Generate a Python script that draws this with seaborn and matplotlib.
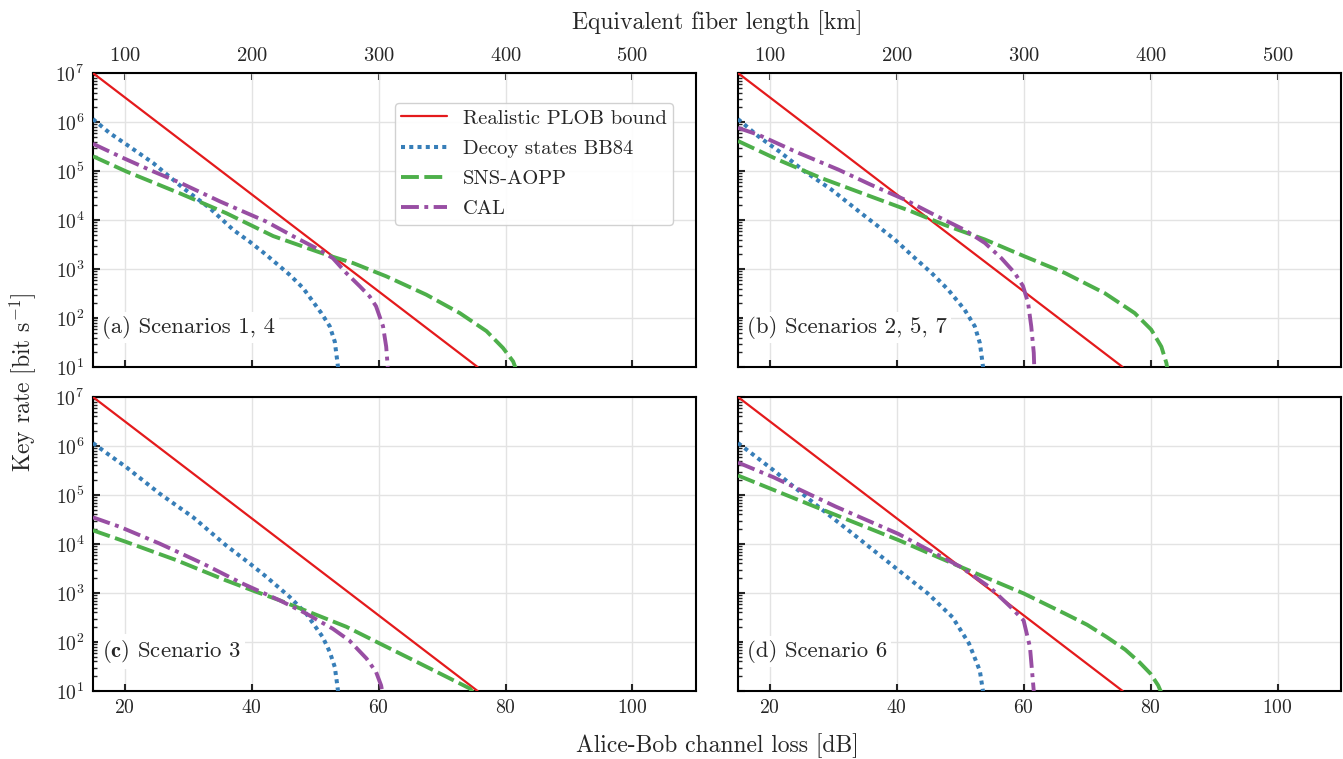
import numpy as np
import pandas as pd
import matplotlib
matplotlib.use("Agg")
import matplotlib.pyplot as plt
import seaborn as sns
from matplotlib.ticker import LogLocator, NullFormatter, FixedLocator

sns.set_theme(style="ticks")
plt.rcParams['font.family'] = ['cmr10', 'DejaVu Serif']
plt.rcParams['mathtext.fontset'] = 'cm'
plt.rcParams['axes.formatter.use_mathtext'] = True
plt.rcParams['axes.unicode_minus'] = False

# ---------------- data ----------------
series_names = ["Realistic PLOB bound", "Decoy states BB84", "SNS-AOPP", "CAL"]
panel_labels = ["(a) Scenarios 1, 4", "(b) Scenarios 2, 5, 7",
                r"$\mathbf{(c)}$ Scenario 3", "(d) Scenario 6"]
top_ticks_km = [100, 200, 300, 400, 500]
bottom_ticks_db = [20, 40, 60, 80, 100]

# PLOB bound (same in all panels)
plob_loss = [15.0, 75.6]
plob_rate = [1.0e7, 1.0e1]

# panel (a)
a_bb84_loss = [15.0, 17.6, 20.25, 24.5, 29.2, 33.4, 37.1, 39.7, 42.3, 46.0, 48.1, 51.0, 52.3, 53.1, 53.5, 53.7]
a_bb84_rate = [1.15e6, 6.0e5, 3.5e5, 1.45e5, 4.5e4, 1.75e4, 6.3e3, 3.6e3, 1.95e3, 7.6e2, 4.1e2, 1.25e2, 6.8e1, 3.3e1, 1.3e1, 8.0]
a_sns_loss = [15.0, 20.25, 28.7, 36.0, 43.4, 51.8, 56.0, 61.2, 67.5, 72.8, 77.0, 79.6, 81.2, 81.8]
a_sns_rate = [2.0e5, 9.8e4, 3.5e4, 1.38e4, 4.7e3, 1.95e3, 1.32e3, 7.1e2, 3.0e2, 1.26e2, 5.4e1, 2.45e1, 1.3e1, 8.0]
a_cal_loss = [15.0, 19.7, 24.5, 28.7, 35.0, 42.3, 46.5, 50.7, 52.8, 54.9, 57.0, 58.6, 59.6, 60.7, 61.2, 61.5]
a_cal_rate = [3.6e5, 1.86e5, 9.8e4, 5.8e4, 2.4e4, 9.3e3, 4.7e3, 2.45e3, 1.66e3, 8.3e2, 4.5e2, 2.75e2, 1.74e2, 6.8e1, 2.6e1, 8.0]

# panel (b)
b_bb84_loss = [15.0, 18.2, 21.8, 25.5, 29.7, 34.4, 37.1, 39.7, 42.3, 45.5, 48.1, 50.7, 52.3, 53.1, 53.5, 53.7]
b_bb84_rate = [1.15e6, 5.1e5, 2.35e5, 9.8e4, 4.2e4, 1.38e4, 7.4e3, 4.0e3, 1.95e3, 8.3e2, 3.8e2, 1.48e2, 6.8e1, 3.1e1, 1.3e1, 8.0]
b_sns_loss = [15.0, 21.3, 28.1, 36.0, 42.3, 47.6, 53.9, 60.2, 66.5, 72.8, 77.5, 80.1, 81.7, 82.5, 82.7]
b_sns_rate = [4.1e5, 1.7e5, 7.2e4, 3.0e4, 1.5e4, 7.9e3, 4.0e3, 1.8e3, 8.3e2, 3.2e2, 1.26e2, 5.8e1, 2.6e1, 1.2e1, 8.0]
b_cal_loss = [15.0, 18.2, 24.5, 30.8, 36.0, 41.3, 46.5, 50.7, 53.9, 56.5, 58.6, 59.9, 60.7, 61.2, 61.6, 61.7]
b_cal_rate = [7.6e5, 5.5e5, 2.35e5, 1.07e5, 5.2e4, 2.6e4, 1.17e4, 6.3e3, 3.4e3, 1.66e3, 8.3e2, 4.5e2, 2.05e2, 6.8e1, 1.95e1, 8.0]

# panel (c)
c_bb84_loss = [15.0, 17.6, 20.25, 25.5, 30.8, 36.0, 39.7, 42.3, 46.0, 48.6, 51.2, 52.3, 53.1, 53.5, 53.7]
c_bb84_rate = [1.15e6, 6.5e5, 3.7e5, 1.07e5, 3.5e4, 9.3e3, 4.0e3, 2.15e3, 8.3e2, 3.8e2, 1.26e2, 6.3e1, 3.1e1, 1.3e1, 8.0]
c_sns_loss = [15.0, 20.25, 28.1, 36.0, 40.2, 44.4, 49.7, 54.9, 60.2, 65.4, 70.7, 74.4, 75.2]
c_sns_rate = [1.9e4, 1.1e4, 4.7e3, 1.8e3, 1.12e3, 7.1e2, 3.8e2, 2.05e2, 9.3e1, 4.3e1, 1.95e1, 1.12e1, 8.0]
c_cal_loss = [15.0, 19.2, 25.5, 32.3, 38.6, 44.4, 48.6, 52.8, 55.4, 58.1, 59.6, 60.4, 60.7]
c_cal_rate = [3.5e4, 2.25e4, 1.02e4, 4.0e3, 1.55e3, 7.1e2, 3.8e2, 1.86e2, 1.07e2, 4.6e1, 2.45e1, 1.3e1, 8.0]

# panel (d)
d_bb84_loss = [15.0, 20.6, 27.1, 33.7, 40.3, 44.9, 48.8, 51.4, 53.1, 53.5, 53.7]
d_bb84_rate = [1.15e6, 3.2e5, 6.6e4, 1.4e4, 2.9e3, 9.8e2, 3.2e2, 9.3e1, 2.6e1, 1.2e1, 8.0]
d_sns_loss = [15.0, 27.1, 40.3, 50.1, 60.0, 66.5, 70.0, 73.1, 76.0, 78.3, 80.0, 81.2, 81.9]
d_sns_rate = [2.5e5, 5.8e4, 1.2e4, 3.4e3, 9.8e2, 3.8e2, 2.25e2, 1.26e2, 7.0e1, 3.8e1, 2.25e1, 1.3e1, 8.0]
d_cal_loss = [15.0, 20.6, 30.4, 40.3, 50.1, 54.7, 58.0, 60.0, 61.0, 61.6, 61.7]
d_cal_rate = [4.6e5, 2.3e5, 5.8e4, 1.6e4, 3.4e3, 1.3e3, 5.1e2, 2.75e2, 7.9e1, 1.0e1, 8.0]

panels = [
    (a_bb84_loss, a_bb84_rate, a_sns_loss, a_sns_rate, a_cal_loss, a_cal_rate),
    (b_bb84_loss, b_bb84_rate, b_sns_loss, b_sns_rate, b_cal_loss, b_cal_rate),
    (c_bb84_loss, c_bb84_rate, c_sns_loss, c_sns_rate, c_cal_loss, c_cal_rate),
    (d_bb84_loss, d_bb84_rate, d_sns_loss, d_sns_rate, d_cal_loss, d_cal_rate),
]

colors = ["#e41a1c", "#377eb8", "#4daf4a", "#984ea3"]
FS_TICK = 14.2
FS_LEG = 14.8
FS_LAB = 17
FS_ANN = 16.4

fig, axes = plt.subplots(2, 2, figsize=(13.43, 7.59), dpi=100, sharex=True, sharey=True)
fig.subplots_adjust(left=0.0692, right=0.9985, top=0.9038, bottom=0.0896,
                    wspace=0.0697, hspace=0.102)

for i, ax in enumerate(axes.flat):
    bl, br, sl, sr, cl, cr = panels[i]
    ax.set_yscale('log')
    sns.lineplot(x=plob_loss, y=plob_rate, ax=ax, color=colors[0], linewidth=1.6,
                 label=series_names[0], zorder=3)
    l1 = sns.lineplot(x=bl, y=br, ax=ax, color=colors[1], linewidth=2.9,
                      label=series_names[1], zorder=3).lines[-1]
    l1.set_dashes((1.0, 1.05))
    l2 = sns.lineplot(x=sl, y=sr, ax=ax, color=colors[2], linewidth=2.8,
                      label=series_names[2], zorder=3).lines[-1]
    l2.set_dashes((4.6, 1.4))
    l3 = sns.lineplot(x=cl, y=cr, ax=ax, color=colors[3], linewidth=2.8,
                      label=series_names[3], zorder=3).lines[-1]
    l3.set_dashes((4.6, 1.4, 1.0, 1.4))

    ax.set_xlim(15, 110)
    ax.set_ylim(1e1, 1e7)
    ax.grid(True, which='major', color='#e3e3e3', linewidth=1.0, zorder=0)
    ax.set_axisbelow(True)
    for sp in ax.spines.values():
        sp.set_linewidth(1.5)
        sp.set_color('black')
    ax.xaxis.set_major_locator(FixedLocator(bottom_ticks_db))
    ax.yaxis.set_major_locator(LogLocator(base=10, numticks=10))
    ax.yaxis.set_minor_locator(LogLocator(base=10, subs=np.arange(2, 10), numticks=20))
    ax.yaxis.set_minor_formatter(NullFormatter())
    ax.tick_params(axis='both', which='major', direction='in', length=5, width=1.5,
                   labelsize=FS_TICK, top=False, right=False, pad=6)
    ax.tick_params(axis='y', which='minor', direction='in', length=3, width=1.0,
                   right=False)
    ax.tick_params(axis='x', which='minor', bottom=False, top=False)
    ax.set_xlabel('')
    ax.set_ylabel('')

    ax.text(0.015, 0.135, panel_labels[i], transform=ax.transAxes, fontsize=FS_ANN,
            ha='left', va='center', zorder=4,
            bbox=dict(facecolor='white', edgecolor='none', pad=3))

    if i == 0:
        ax.legend(loc='upper right', bbox_to_anchor=(0.979, 0.933), fontsize=FS_LEG,
                  frameon=True, fancybox=True, edgecolor='#cccccc', framealpha=0.9,
                  handlelength=2.2, labelspacing=0.58, borderpad=0.3)
    else:
        ax.get_legend().remove()

    if i < 2:
        sec = ax.secondary_xaxis('top', functions=(lambda x: x / 0.2, lambda k: k * 0.2))
        sec.xaxis.set_major_locator(FixedLocator(top_ticks_km))
        sec.tick_params(axis='x', which='major', direction='in', length=5, width=1.5,
                        labelsize=FS_TICK + 0.6, pad=6)
        sec.tick_params(axis='x', which='minor', top=False)

fig.text(0.534, 0.970, "Equivalent fiber length [km]", ha='center', va='center', fontsize=FS_LAB)
fig.text(0.534, 0.018, "Alice-Bob channel loss [dB]", ha='center', va='center', fontsize=FS_LAB)
fig.text(0.017, 0.497, r"Key rate [bit s$^{-1}$]", ha='center', va='center',
         rotation=90, fontsize=FS_LAB)

fig.savefig("out.png", dpi=100)
